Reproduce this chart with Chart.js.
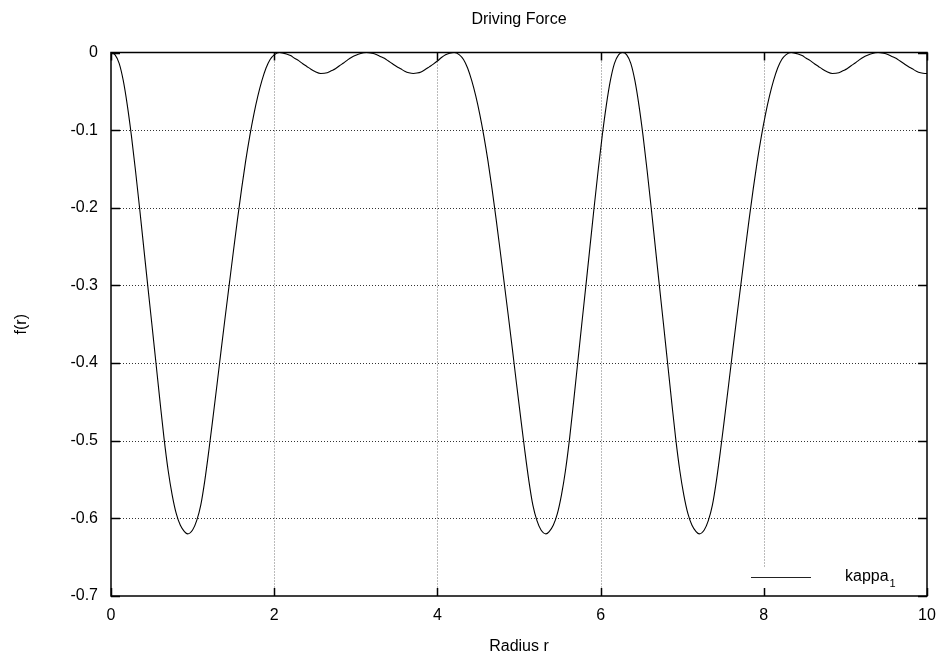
<!DOCTYPE html>
<html>
<head>
<meta charset="utf-8">
<title>Driving Force</title>
<script src="https://cdn.jsdelivr.net/npm/chart.js@4/dist/chart.umd.min.js"></script>
<style>
  html, body { margin: 0; padding: 0; background: #fff; }
  #wrap { width: 947px; height: 663px; }
</style>
</head>
<body>
<div id="wrap"><canvas id="chart" width="947" height="663"></canvas></div>
<script>
// Radius samples and the driving force f(r) at each of them
const radius = [
  0, 0.05, 0.1, 0.15, 0.2, 0.25, 0.3, 0.35, 0.4, 0.45, 0.5, 0.55, 0.6, 0.65, 0.7, 0.75, 0.8, 0.85, 0.9, 0.94,
  1.0, 1.05, 1.1, 1.15, 1.2, 1.25, 1.3, 1.35, 1.4, 1.45, 1.5, 1.55, 1.6, 1.65, 1.7, 1.75, 1.8, 1.85, 1.9, 1.95,
  2.0, 2.065, 2.1, 2.15, 2.2, 2.25, 2.3, 2.35, 2.4, 2.45, 2.5, 2.57, 2.65, 2.7, 2.75, 2.8, 2.85, 2.9, 2.95,
  3.0, 3.05, 3.13, 3.2, 3.25, 3.3, 3.35, 3.4, 3.45, 3.5, 3.55, 3.6, 3.65, 3.705, 3.75, 3.8, 3.85, 3.9, 3.95,
  4.0, 4.05, 4.1, 4.15, 4.205, 4.27, 4.32, 4.37, 4.42, 4.47, 4.52, 4.57, 4.62, 4.67, 4.72, 4.77, 4.82, 4.87, 4.92, 4.97,
  5.02, 5.07, 5.12, 5.17, 5.22, 5.27, 5.33, 5.37, 5.42, 5.47, 5.52, 5.57, 5.62, 5.67, 5.72, 5.77, 5.82, 5.87, 5.92, 5.97,
  6.02, 6.07, 6.12, 6.17, 6.22, 6.27, 6.32, 6.37, 6.42, 6.47, 6.52, 6.57, 6.62, 6.67, 6.72, 6.77, 6.82, 6.87, 6.92, 6.97,
  7.02, 7.07, 7.12, 7.17, 7.21, 7.27, 7.32, 7.37, 7.42, 7.47, 7.52, 7.57, 7.62, 7.67, 7.72, 7.77, 7.82, 7.87, 7.92, 7.97,
  8.02, 8.07, 8.12, 8.17, 8.22, 8.27, 8.335, 8.37, 8.42, 8.47, 8.52, 8.57, 8.62, 8.67, 8.72, 8.77, 8.84, 8.92, 8.97,
  9.02, 9.07, 9.12, 9.17, 9.22, 9.27, 9.32, 9.4, 9.47, 9.52, 9.57, 9.62, 9.67, 9.72, 9.77, 9.82, 9.87, 9.92, 9.975, 10
];
const force = [
  0, -0.003, -0.014, -0.036, -0.068, -0.107, -0.152, -0.2, -0.25, -0.3, -0.349, -0.399, -0.449, -0.497, -0.538, -0.57, -0.594, -0.609, -0.617, -0.62,
  -0.615, -0.603, -0.583, -0.551, -0.512, -0.47, -0.427, -0.383, -0.34, -0.298, -0.256, -0.215, -0.176, -0.14, -0.108, -0.08, -0.056, -0.036, -0.02, -0.009,
  -0.003, 0, -0.0005, -0.002, -0.004, -0.0075, -0.0105, -0.0145, -0.018, -0.0215, -0.0245, -0.027, -0.026, -0.0235, -0.021, -0.017, -0.0135, -0.0095, -0.006,
  -0.0035, -0.0015, 0, -0.001, -0.0025, -0.005, -0.0075, -0.011, -0.0145, -0.018, -0.021, -0.024, -0.026, -0.027, -0.0265, -0.025, -0.022, -0.0185, -0.015,
  -0.011, -0.0065, -0.003, -0.001, 0, -0.003, -0.009, -0.02, -0.036, -0.056, -0.08, -0.108, -0.14, -0.176, -0.215, -0.256, -0.298, -0.34, -0.383, -0.427,
  -0.47, -0.512, -0.551, -0.583, -0.603, -0.615, -0.62, -0.617, -0.609, -0.594, -0.57, -0.538, -0.497, -0.449, -0.399, -0.349, -0.3, -0.25, -0.2, -0.152,
  -0.107, -0.068, -0.036, -0.014, -0.003, 0, -0.003, -0.014, -0.036, -0.068, -0.107, -0.152, -0.2, -0.25, -0.3, -0.349, -0.399, -0.449, -0.497, -0.538,
  -0.57, -0.594, -0.609, -0.617, -0.62, -0.615, -0.603, -0.583, -0.551, -0.512, -0.47, -0.427, -0.383, -0.34, -0.298, -0.256, -0.215, -0.176, -0.14, -0.108,
  -0.08, -0.056, -0.036, -0.02, -0.009, -0.003, 0, -0.0005, -0.002, -0.004, -0.0075, -0.0105, -0.0145, -0.018, -0.0215, -0.0245, -0.027, -0.026, -0.0235,
  -0.021, -0.017, -0.0135, -0.0095, -0.006, -0.0035, -0.0015, 0, -0.001, -0.0025, -0.005, -0.0075, -0.011, -0.0145, -0.018, -0.021, -0.024, -0.026, -0.027, -0.027
];

// Axis ticks and their labels
const xTicks = [0, 2, 4, 6, 8, 10];
const xTickLabels = ['0', '2', '4', '6', '8', '10'];
const yTicks = [-0.7, -0.6, -0.5, -0.4, -0.3, -0.2, -0.1, 0];
const yTickLabels = ['-0.7', '-0.6', '-0.5', '-0.4', '-0.3', '-0.2', '-0.1', '0'];

// Text
const chartTitle = 'Driving Force';
const xTitle = 'Radius r';
const yTitle = 'f(r)';
const seriesName = 'kappa';
const seriesSub = '1';

const FONT = "'Liberation Sans', Arial, Helvetica, sans-serif";
const baseFont = { family: FONT, size: 16, weight: 'normal' };

const points = radius.map((r, i) => ({ x: r, y: force[i] }));

// Dotted grid drawn under the curve (interior ticks only)
const gridPlugin = {
  id: 'dottedGrid',
  beforeDatasetsDraw(chart) {
    const { ctx, chartArea: a, scales: { x, y } } = chart;
    ctx.save();
    ctx.lineWidth = 1;
    // horizontal lines
    ctx.strokeStyle = '#333';
    ctx.setLineDash([1, 2]);
    yTicks.forEach(v => {
      if (v === 0 || v === -0.7) return;
      const py = Math.round(y.getPixelForValue(v)) + 0.5;
      ctx.beginPath();
      ctx.moveTo(a.left, py);
      ctx.lineTo(a.right, py);
      ctx.stroke();
    });
    // vertical lines
    ctx.strokeStyle = '#777';
    ctx.setLineDash([1, 2]);
    xTicks.forEach(v => {
      if (v === 0 || v === 10) return;
      const px = Math.round(x.getPixelForValue(v)) + 0.5;
      ctx.beginPath();
      ctx.moveTo(px, a.top);
      ctx.lineTo(px, a.bottom);
      ctx.stroke();
    });
    ctx.restore();
  }
};

// Frame, inward ticks, title and key
const framePlugin = {
  id: 'frameAndKey',
  afterDatasetsDraw(chart) {
    const { ctx, chartArea: a, scales: { x, y } } = chart;
    ctx.save();

    // key box (opaque) with sample line and label
    ctx.fillStyle = '#fff';
    ctx.fillRect(745, 567, 178, 26);
    ctx.strokeStyle = '#222';
    ctx.lineWidth = 1;
    ctx.setLineDash([]);
    ctx.beginPath();
    ctx.moveTo(751, 577.5);
    ctx.lineTo(811, 577.5);
    ctx.stroke();
    ctx.fillStyle = '#000';
    ctx.textAlign = 'left';
    ctx.textBaseline = 'alphabetic';
    ctx.font = '16px ' + FONT;
    ctx.fillText(seriesName, 845, 581);
    const w = ctx.measureText(seriesName).width;
    ctx.font = '11px ' + FONT;
    ctx.fillText(seriesSub, 845 + w + 1, 587);

    // frame
    ctx.strokeStyle = '#000';
    ctx.lineWidth = 1.5;
    ctx.strokeRect(a.left, a.top, a.right - a.left, a.bottom - a.top);

    // inward tick marks on all four sides
    ctx.lineWidth = 1.5;
    ctx.beginPath();
    xTicks.forEach(v => {
      const px = Math.round(x.getPixelForValue(v)) + 0.5;
      ctx.moveTo(px, a.bottom); ctx.lineTo(px, a.bottom - 8);
      ctx.moveTo(px, a.top); ctx.lineTo(px, a.top + 8);
    });
    yTicks.forEach(v => {
      const py = Math.round(y.getPixelForValue(v)) + 0.5;
      ctx.moveTo(a.left, py); ctx.lineTo(a.left + 9, py);
      ctx.moveTo(a.right, py); ctx.lineTo(a.right - 9, py);
    });
    ctx.stroke();

    // title centred over the plot
    ctx.font = '16px ' + FONT;
    ctx.textAlign = 'center';
    ctx.textBaseline = 'middle';
    ctx.fillText(chartTitle, (a.left + a.right) / 2, 20);
    ctx.restore();
  }
};

new Chart(document.getElementById('chart'), {
  type: 'scatter',
  data: {
    datasets: [{
      label: seriesName + seriesSub,
      data: points,
      showLine: true,
      borderColor: '#000',
      borderWidth: 1.1,
      pointRadius: 0,
      fill: false,
      cubicInterpolationMode: 'monotone'
    }]
  },
  options: {
    responsive: false,
    animation: false,
    layout: { padding: { left: 0, right: 20, top: 52.5, bottom: 0 } },
    plugins: {
      legend: { display: false },
      title: { display: false },
      tooltip: { enabled: false }
    },
    scales: {
      x: {
        type: 'linear',
        min: 0,
        max: 10,
        afterBuildTicks: s => { s.ticks = xTicks.map(v => ({ value: v })); },
        afterFit: s => { s.height = 67; },
        ticks: {
          autoSkip: false,
          maxRotation: 0,
          padding: 10,
          color: '#000',
          font: baseFont,
          callback: (v, i) => xTickLabels[i]
        },
        grid: { display: false, drawTicks: false },
        border: { display: false },
        title: { display: true, text: xTitle, color: '#000', font: baseFont, padding: { top: 0, bottom: 7 } }
      },
      y: {
        type: 'linear',
        min: -0.7,
        max: 0,
        afterBuildTicks: s => { s.ticks = yTicks.map(v => ({ value: v })); },
        afterFit: s => { s.width = 111; },
        ticks: {
          autoSkip: false,
          padding: 13,
          color: '#000',
          font: baseFont,
          callback: (v, i) => yTickLabels[i]
        },
        grid: { display: false, drawTicks: false },
        border: { display: false },
        title: { display: true, text: yTitle, color: '#000', font: baseFont, padding: { top: 12, bottom: 0 } }
      }
    }
  },
  plugins: [gridPlugin, framePlugin]
});
</script>
</body>
</html>
